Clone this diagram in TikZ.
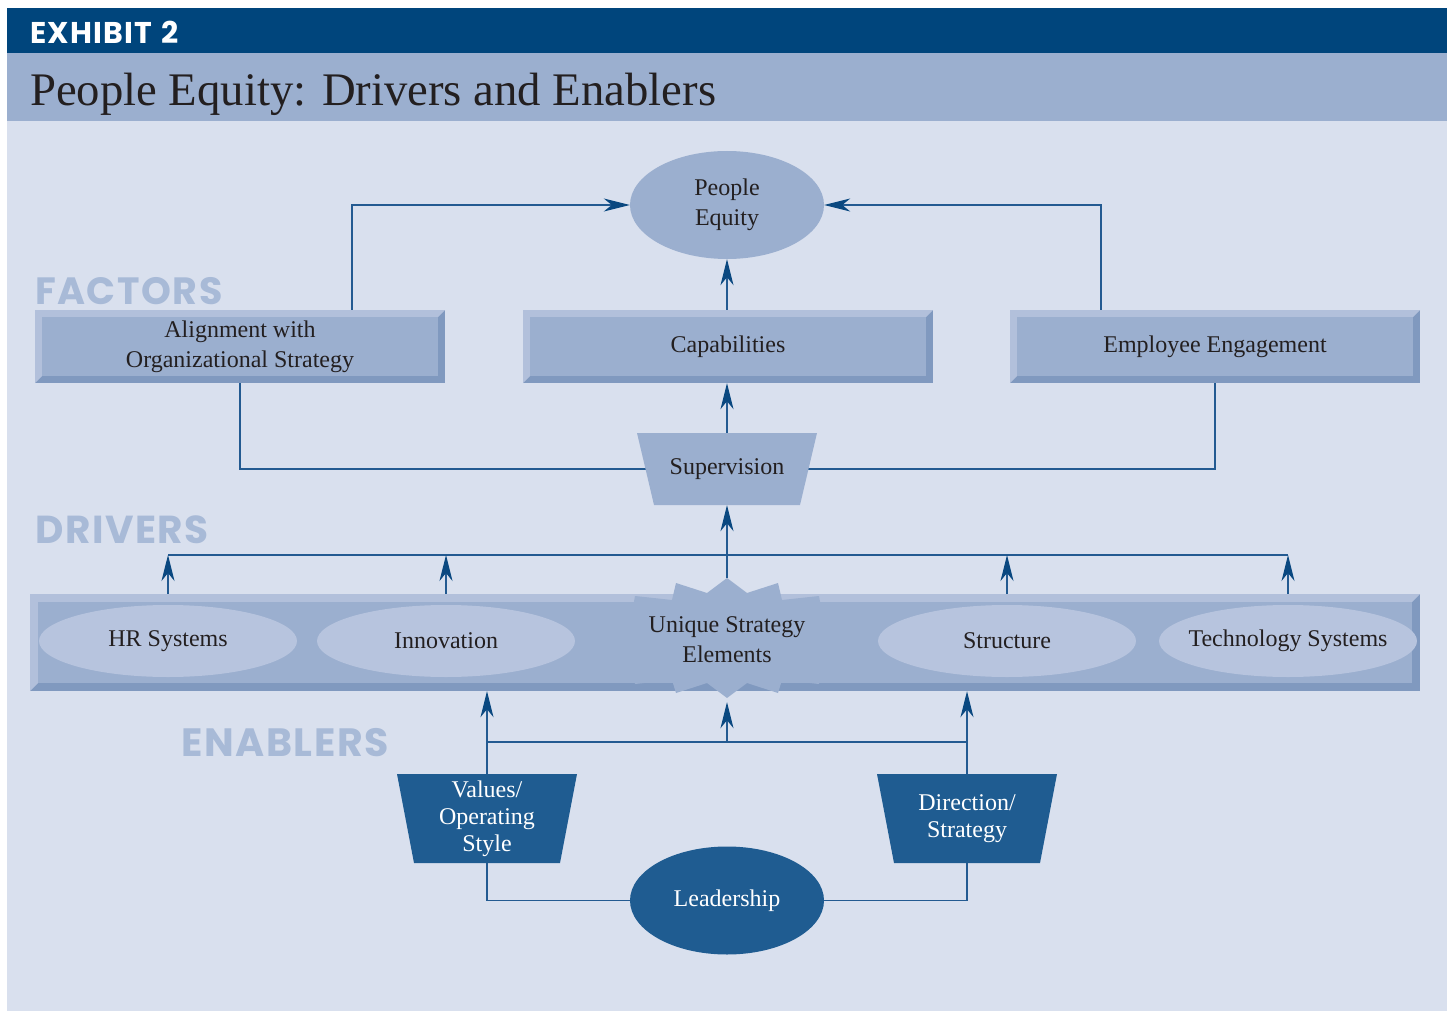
\documentclass[tikz,border=0pt]{standalone}
\usepackage{fontspec}
\setmainfont{Liberation Serif}
\newfontfamily\futura{Poppins}[LetterSpace=4]
\usetikzlibrary{arrows.meta,calc,shapes.geometric}
\pgfdeclarelayer{back}
\pgfdeclarelayer{bg}
\pgfsetlayers{back,bg,main}
\definecolor{bgc}{RGB}{217,224,238}
\definecolor{hdark}{RGB}{0,69,124}
\definecolor{band}{RGB}{155,175,207}
\definecolor{face}{RGB}{155,175,207}
\definecolor{bevlight}{RGB}{178,192,219}
\definecolor{bevdark}{RGB}{128,153,191}
\definecolor{ellc}{RGB}{183,196,222}
\definecolor{lc}{RGB}{35,90,145}
\definecolor{tipc}{RGB}{10,72,128}
\definecolor{darkf}{RGB}{31,92,145}
\definecolor{labc}{RGB}{168,186,215}
\definecolor{tx}{RGB}{35,31,32}
\begin{document}
\begin{tikzpicture}[x=1pt,y=-1pt,
  txt/.style={font=\fontsize{24}{30}\selectfont, text=tx, align=center},
  wtxt/.style={font=\fontsize{24}{27}\selectfont, text=white, align=center},
  seclab/.style={anchor=base west, inner sep=0pt, text=labc, font=\futura\bfseries\fontsize{38}{38}\selectfont},
  bevelbox/.style={fill=bevdark, inner sep=0pt, path picture={
    \coordinate (bbsw) at (path picture bounding box.south west);
    \coordinate (bbnw) at (path picture bounding box.north west);
    \coordinate (bbne) at (path picture bounding box.north east);
    \fill[bevlight] (bbsw) -- (bbnw) -- (bbne) -- ([xshift=-#1pt,yshift=-#1pt]bbne)
       -- ([xshift=#1pt,yshift=-#1pt]bbnw) -- ([xshift=#1pt,yshift=#1pt]bbsw) -- cycle;
    \fill[face] ([xshift=#1pt,yshift=#1pt]bbsw) rectangle ([xshift=-#1pt,yshift=-#1pt]bbne);
  }},
  bevelbox/.default=7,
  trapbox/.style={inner sep=0pt, minimum width=180pt, path picture={
    \fill[#1] (path picture bounding box.north west) -- (path picture bounding box.north east)
      -- ([xshift=-17pt]path picture bounding box.south east)
      -- ([xshift=17pt]path picture bounding box.south west) -- cycle;
  }},
  ovalbox/.style={ellipse, fill=#1, inner sep=0pt, minimum width=194pt, minimum height=108pt},
  drvell/.style={ellipse, fill=ellc, inner sep=0pt, minimum width=258pt, minimum height=72pt},
  every label/.style={txt},
  ln/.style={draw=lc, line width=1.3pt},
  arr/.style={ln, -{Stealth[length=26pt,width=13pt,inset=8pt,color=tipc]}}
]
\useasboundingbox (0,0) rectangle (1448,1011);
\begin{pgfonlayer}{back}
\fill[bgc] (7,8) rectangle (1447,1011);
\fill[hdark] (7,8) rectangle (1447,53);
\fill[band] (7,53) rectangle (1447,121);
\end{pgfonlayer}
\node[anchor=base west, inner sep=0pt, text=white, font=\futura\bfseries\fontsize{30}{30}\selectfont] (exh) at (30,44) {EXHIBIT\hspace{2pt} 2};
\node[anchor=base west, inner sep=0pt, text=tx, font=\fontsize{46.7}{46.7}\selectfont] (ttl) at (30,106) {People Equity: Drivers and Enablers};

\node[seclab] (lfac) at (35,304) {FACTORS};
\node[seclab, font=\futura\bfseries\fontsize{39}{39}\selectfont] (ldrv) at (35,543) {DRIVERS};
\node[seclab, font=\futura\bfseries\fontsize{39.5}{39}\selectfont] (lena) at (181,756) {ENABLERS};

% top
\node[ovalbox=face, txt] (peq) at (727,205) {People\\Equity};
\node[bevelbox, minimum width=410pt, minimum height=73pt, txt] (align) at (240,346.5) {Alignment with\\Organizational Strategy};
\node[bevelbox, minimum width=410pt, minimum height=73pt, txt] (cap) at (728,346.5) {Capabilities};
\node[bevelbox, minimum width=410pt, minimum height=73pt, txt] (eng) at (1215,346.5) {Employee Engagement};
\node[trapbox=face, minimum height=72pt, txt] (sup) at (727,469) {Supervision};

% drivers bar
\node[bevelbox=8, minimum width=1390pt, minimum height=97pt] (bar) at (725,642.5) {};
\node[drvell, label=center:{HR Systems}] (hr) at (168,641) {};
\node[drvell, label=center:{Innovation}] (inno) at (446,641) {};
\node[drvell, label=center:{Structure}] (struc) at (1007,641) {};
\node[drvell, label=center:{Technology Systems}] (tech) at (1288,641) {};
\begin{scope}[shift={(727,640)}]
\fill[face] (-92,-44) -- (-55,-40) -- (-51,-57) -- (-20,-47) -- (0,-62) -- (20,-47) -- (51,-57)
  -- (55,-40) -- (92,-44) -- (100,0) -- (92,44) -- (55,40) -- (51,53) -- (20,43) -- (0,58)
  -- (-20,43) -- (-51,53) -- (-55,40) -- (-92,44) -- (-100,0) -- cycle;
\end{scope}
\node[txt, minimum width=180pt, minimum height=124pt, inner sep=0pt] (usel) at (727,640) {Unique Strategy\\Elements};

% enablers
\node[trapbox=darkf, minimum height=89pt, wtxt] (vals) at (487,818.5) {Values/\\Operating\\Style};
\node[trapbox=darkf, minimum height=89pt, wtxt] (dirs) at (967,818.5) {Direction/\\Strategy};
\node[ovalbox=darkf, wtxt] (lead) at (727,900.5) {Leadership};

\coordinate (hub) at (727,555);
\coordinate (ehub) at (727,742);

\begin{pgfonlayer}{bg}
\draw[arr] ([xshift=112pt]align.north) |- (peq.west);
\draw[arr] ([xshift=-114pt]eng.north) |- (peq.east);
\draw[arr] (peq.south |- cap.north) -- (peq.south);
\draw[arr] (sup.north) -- (sup.north |- cap.south);
\draw[ln] (align.south) |- (sup.center);
\draw[ln] (eng.south) |- (sup.center);
\draw[arr] (usel.north) -- (sup.south);
\draw[ln] (hr.north |- hub) -- (tech.north |- hub);
\draw[arr] (hr.north) -- (hr.north |- hub);
\draw[arr] (inno.north) -- (inno.north |- hub);
\draw[arr] (struc.north) -- (struc.north |- hub);
\draw[arr] (tech.north) -- (tech.north |- hub);
\draw[arr] (vals.north) -- (vals.north |- bar.south);
\draw[arr] (dirs.north) -- (dirs.north |- bar.south);
\draw[ln] (vals.north |- ehub) -- (dirs.north |- ehub);
\draw[arr] (ehub) -- (usel.south);
\draw[ln] (vals.south) |- (lead.west);
\draw[ln] (dirs.south) |- (lead.east);
\end{pgfonlayer}
\end{tikzpicture}
\end{document}
